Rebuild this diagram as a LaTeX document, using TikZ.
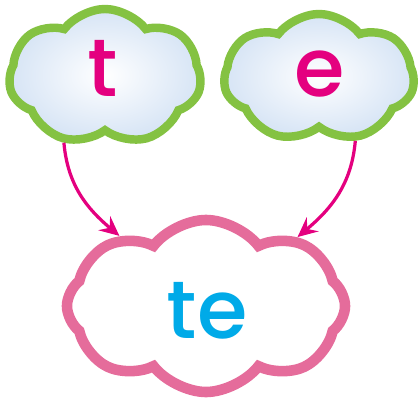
\documentclass[tikz,border=0pt]{standalone}
\usepackage{fontspec}
\setmainfont{Poppins}[UprightFont={* Medium}]
\usetikzlibrary{shapes.symbols,arrows.meta,positioning}
\definecolor{leafgreen}{RGB}{132,194,66}
\definecolor{rosepink}{RGB}{229,108,155}
\definecolor{hotmagenta}{RGB}{228,0,127}
\definecolor{skycyan}{RGB}{0,170,232}
\definecolor{mistblue}{RGB}{214,228,245}

\begin{document}
\begin{tikzpicture}[x=0.025cm,y=0.025cm,
  puff/.style={cloud, cloud puffs=7, cloud puff arc=105, line width=6pt},
  letter/.style={anchor=base, inner sep=0pt, font=\fontsize{58}{58}\selectfont},
  link/.style={hotmagenta, line width=2.3pt, -{Stealth[length=14pt,width=13pt,inset=5pt]}}]
\useasboundingbox (0,0) rectangle (420,403);

\node[puff, draw=leafgreen, inner color=white, outer color=mistblue,
  minimum width=4.8cm, minimum height=3.4cm] (L) at (105,326) {};

\node[puff, draw=leafgreen, inner color=white, outer color=mistblue,
  minimum width=4.75cm, minimum height=3.2cm] (R) at (319,325) {};

\node[puff, cloud puffs=8, draw=rosepink, fill=white, line width=7.5pt,
  minimum width=6.95cm, minimum height=4.3cm] (B) at (206,97) {};

\node[letter, hotmagenta] (T) at (103,307) {t};
\node[letter, hotmagenta] (E) at (320,307) {e};
\node[letter, skycyan] (TE) at (207,65) {te};

\draw[link] (L.-122) to[out=-85, in=140] (B.141);
\draw[link] (R.-60) to[out=-95, in=40] (B.37);
\end{tikzpicture}
\end{document}
